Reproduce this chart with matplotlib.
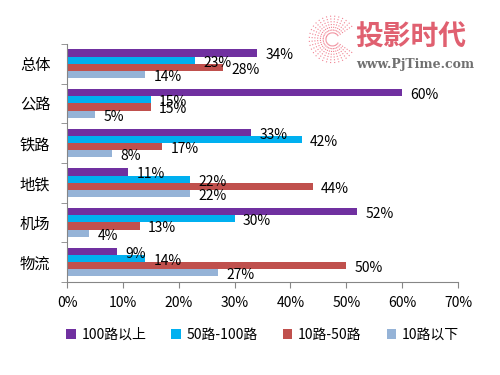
import numpy as np
import matplotlib
matplotlib.use('Agg')
import matplotlib.pyplot as plt

plt.rcParams['font.family'] = ['Noto Sans CJK SC', 'DejaVu Sans']

categories = ['总体', '公路', '铁路', '地铁', '机场', '物流']
series_names = ['100路以上', '50路-100路', '10路-50路', '10路以下']
v_100 = [34, 60, 33, 11, 52, 9]
v_50_100 = [23, 15, 42, 22, 30, 14]
v_10_50 = [28, 15, 17, 44, 13, 50]
v_10 = [14, 5, 8, 22, 4, 27]
colors = ['#7030A0', '#00B0F0', '#C0504D', '#95B3D7']

fig = plt.figure(figsize=(5, 3.75), dpi=100)
ax = fig.add_axes([0.134, 0.248, 0.782, 0.635])

n = len(categories)
ypos = np.arange(n)[::-1]  # first category on top
h = 0.18
series = [v_100, v_50_100, v_10_50, v_10]
for i, (vals, name, c) in enumerate(zip(series, series_names, colors)):
    y = ypos + 0.27 - i * h
    ax.barh(y, vals, height=h, color=c, label=name)
    for yy, v in zip(y, vals):
        ax.text(v + 1.5, yy - 0.06, f'{v}%', va='center', ha='left', fontsize=10, color='#000000')

ax.set_xlim(0, 70)
ax.set_ylim(-0.5, n - 0.5)
ax.set_xticks(np.arange(0, 71, 10))
ax.set_xticklabels([f'{t}%' for t in range(0, 71, 10)], fontsize=10)
ax.set_yticks(ypos)
ax.set_yticklabels(categories, fontsize=11)
ax.set_yticks(np.arange(-0.5, n, 1), minor=True)
ax.tick_params(axis='y', which='major', length=0, pad=12)
ax.tick_params(axis='y', which='minor', length=4, color='#868686')
ax.tick_params(axis='x', length=4, color='#868686', pad=6)
for s in ['top', 'right']:
    ax.spines[s].set_visible(False)
for s in ['left', 'bottom']:
    ax.spines[s].set_color('#868686')

ax.legend(loc='upper center', bbox_to_anchor=(0.5, -0.14), ncol=4, frameon=False,
          fontsize=10, handlelength=0.7, handleheight=0.7, handletextpad=0.4,
          columnspacing=1.8)

# watermark
fig.text(0.71, 0.899, '投影时代', fontsize=20, color='#E06070', weight='bold', va='center')
fig.text(0.713, 0.827, 'www.PjTime.com', fontsize=9, color='#707070', weight='bold',
         family='DejaVu Serif', va='center')
th = np.linspace(0.6, 2 * np.pi - 0.6, 30)
for t in th:
    fig.lines.append(plt.Line2D([0.665 + 0.012 * np.cos(t), 0.665 + 0.05 * np.cos(t)],
                                [0.895 + 0.016 * np.sin(t), 0.895 + 0.066 * np.sin(t)],
                                transform=fig.transFigure, color='#F08090', lw=0.8,
                                ls=(0, (1, 1.5))))

fig.savefig('out.png', dpi=100)
